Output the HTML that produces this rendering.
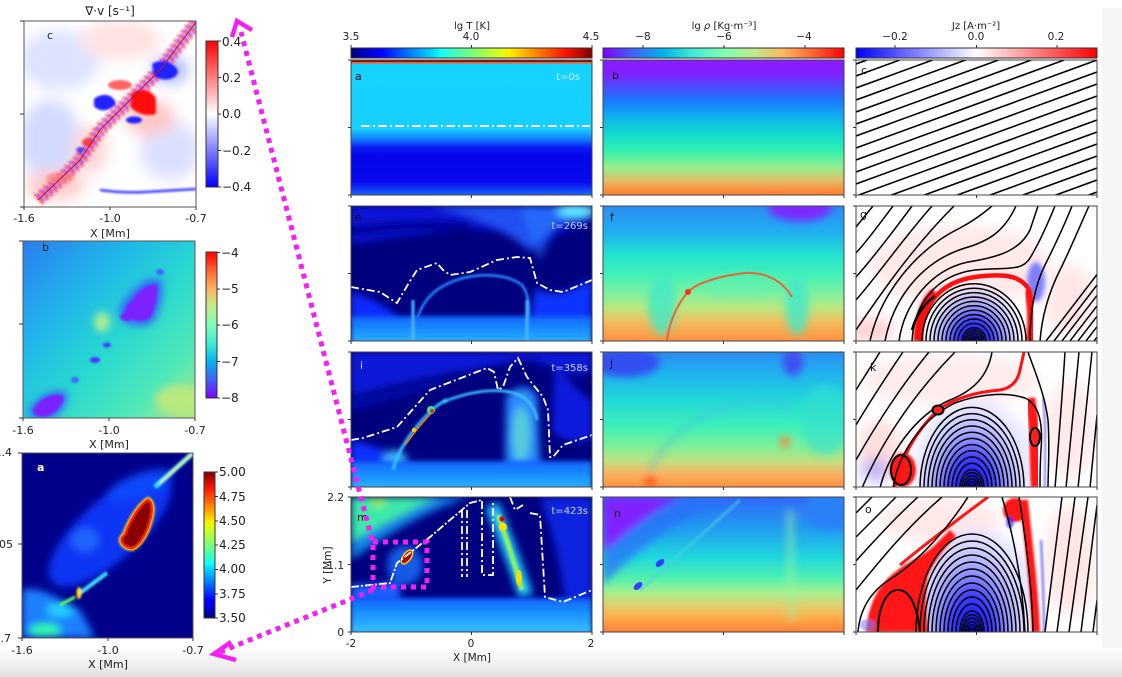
<!DOCTYPE html>
<html><head><meta charset="utf-8">
<style>
html,body{margin:0;padding:0;background:#fff;width:1122px;height:677px;overflow:hidden;}
svg{display:block;}
text{font-family:"DejaVu Sans","Liberation Sans",sans-serif;fill:#222;}
</style></head><body>
<svg width="1122" height="677" viewBox="0 0 1122 677" xmlns="http://www.w3.org/2000/svg">
<defs>
<filter id="f1" x="-30%" y="-30%" width="160%" height="160%"><feGaussianBlur stdDeviation="1"/></filter>
<filter id="f2" x="-30%" y="-30%" width="160%" height="160%"><feGaussianBlur stdDeviation="2.5"/></filter>
<filter id="f4" x="-30%" y="-30%" width="160%" height="160%"><feGaussianBlur stdDeviation="4"/></filter>
<filter id="f7" x="-40%" y="-40%" width="180%" height="180%"><feGaussianBlur stdDeviation="7"/></filter>

<linearGradient id="jetH" x1="0" y1="0" x2="1" y2="0">
<stop offset="0" stop-color="#000080"/><stop offset=".11" stop-color="#0000ff"/><stop offset=".125" stop-color="#0000ff"/><stop offset=".34" stop-color="#00dbff"/><stop offset=".375" stop-color="#14fff2"/><stop offset=".5" stop-color="#7aff7a"/><stop offset=".625" stop-color="#e0ff14"/><stop offset=".66" stop-color="#ffed00"/><stop offset=".75" stop-color="#ff9600"/><stop offset=".89" stop-color="#ff1200"/><stop offset="1" stop-color="#800000"/>
</linearGradient>
<linearGradient id="jetV" x1="0" y1="1" x2="0" y2="0">
<stop offset="0" stop-color="#000080"/><stop offset=".11" stop-color="#0000ff"/><stop offset=".125" stop-color="#0000ff"/><stop offset=".34" stop-color="#00dbff"/><stop offset=".375" stop-color="#14fff2"/><stop offset=".5" stop-color="#7aff7a"/><stop offset=".625" stop-color="#e0ff14"/><stop offset=".66" stop-color="#ffed00"/><stop offset=".75" stop-color="#ff9600"/><stop offset=".89" stop-color="#ff1200"/><stop offset="1" stop-color="#800000"/>
</linearGradient>
<linearGradient id="rbH" x1="0" y1="0" x2="1" y2="0">
<stop offset="0" stop-color="#8000ff"/><stop offset=".125" stop-color="#4062fa"/><stop offset=".25" stop-color="#00b4eb"/><stop offset=".375" stop-color="#40ebd4"/><stop offset=".5" stop-color="#80ffb4"/><stop offset=".625" stop-color="#bfeb8e"/><stop offset=".75" stop-color="#ffb462"/><stop offset=".875" stop-color="#ff6232"/><stop offset="1" stop-color="#ff0000"/>
</linearGradient>
<linearGradient id="rbV" x1="0" y1="1" x2="0" y2="0">
<stop offset="0" stop-color="#8000ff"/><stop offset=".125" stop-color="#4062fa"/><stop offset=".25" stop-color="#00b4eb"/><stop offset=".375" stop-color="#40ebd4"/><stop offset=".5" stop-color="#80ffb4"/><stop offset=".625" stop-color="#bfeb8e"/><stop offset=".75" stop-color="#ffb462"/><stop offset=".875" stop-color="#ff6232"/><stop offset="1" stop-color="#ff0000"/>
</linearGradient>
<linearGradient id="bwrH" x1="0" y1="0" x2="1" y2="0">
<stop offset="0" stop-color="#0000ff"/><stop offset=".5" stop-color="#ffffff"/><stop offset="1" stop-color="#ff0000"/>
</linearGradient>
<linearGradient id="bwrV" x1="0" y1="1" x2="0" y2="0">
<stop offset="0" stop-color="#0000ff"/><stop offset=".5" stop-color="#ffffff"/><stop offset="1" stop-color="#ff0000"/>
</linearGradient>

<linearGradient id="gTa" x1="0" y1="0" x2="0" y2="1">
<stop offset="0" stop-color="#16d2ff"/><stop offset=".5" stop-color="#16d0ff"/><stop offset=".58" stop-color="#1478ff"/><stop offset=".64" stop-color="#0a1cf2"/><stop offset=".7" stop-color="#0606ea"/><stop offset=".9" stop-color="#0808ee"/><stop offset="1" stop-color="#1a66ff"/>
</linearGradient>
<linearGradient id="gDb" x1="0" y1="0" x2="0" y2="1">
<stop offset="0" stop-color="#8a1cff"/><stop offset=".1" stop-color="#8020ff"/><stop offset=".3" stop-color="#1a78ff"/><stop offset=".42" stop-color="#10b0f0"/><stop offset=".54" stop-color="#10d8d0"/><stop offset=".67" stop-color="#30f0b0"/><stop offset=".79" stop-color="#90f090"/><stop offset=".89" stop-color="#e0c068"/><stop offset=".97" stop-color="#ff8a3a"/><stop offset="1" stop-color="#ff8030"/>
</linearGradient>
<linearGradient id="gDf" x1="0" y1="0" x2="0" y2="1">
<stop offset="0" stop-color="#2a8cf2"/><stop offset=".2" stop-color="#20b0f0"/><stop offset=".35" stop-color="#20e0d0"/><stop offset=".5" stop-color="#40f0b8"/><stop offset=".65" stop-color="#80f0a0"/><stop offset=".75" stop-color="#b8e880"/><stop offset=".85" stop-color="#f0c060"/><stop offset="1" stop-color="#ff9040"/>
</linearGradient>
<linearGradient id="gDj" x1="0" y1="0" x2="0" y2="1">
<stop offset="0" stop-color="#2a8cf0"/><stop offset=".15" stop-color="#20b0f0"/><stop offset=".35" stop-color="#20d8d8"/><stop offset=".55" stop-color="#40f0b8"/><stop offset=".7" stop-color="#80f098"/><stop offset=".8" stop-color="#c0e080"/><stop offset=".9" stop-color="#f8b060"/><stop offset="1" stop-color="#ff9040"/>
</linearGradient>
<linearGradient id="gDn" x1="0" y1="0" x2="0" y2="1">
<stop offset="0" stop-color="#3068f8"/><stop offset=".25" stop-color="#20a0f0"/><stop offset=".45" stop-color="#20d8dc"/><stop offset=".6" stop-color="#50f0b0"/><stop offset=".7" stop-color="#a0f090"/><stop offset=".8" stop-color="#e0d070"/><stop offset=".9" stop-color="#ffa848"/><stop offset="1" stop-color="#ff8038"/>
</linearGradient>
<linearGradient id="gBand" x1="0" y1="0" x2="0" y2="1">
<stop offset="0" stop-color="#1060ff"/><stop offset=".4" stop-color="#1a90ff"/><stop offset="1" stop-color="#38c4ff"/>
</linearGradient>
<radialGradient id="rBlueH" cx=".5" cy="1" r="1" gradientTransform="translate(.5 1) scale(.5 1) translate(-.5 -1)">
<stop offset="0" stop-color="#0000ff" stop-opacity="1"/><stop offset=".35" stop-color="#3030ff" stop-opacity=".9"/><stop offset=".7" stop-color="#9090ff" stop-opacity=".45"/><stop offset="1" stop-color="#ffffff" stop-opacity="0"/>
</radialGradient>
<linearGradient id="gLb" x1="0" y1="0" x2="1" y2="1">
<stop offset="0" stop-color="#2a7ef0"/><stop offset=".3" stop-color="#20b4ea"/><stop offset=".55" stop-color="#28d8d0"/><stop offset=".8" stop-color="#50e8b8"/><stop offset="1" stop-color="#b0e880"/>
</linearGradient>
<linearGradient id="gBot" x1="0" y1="0" x2="0" y2="1">
<stop offset="0" stop-color="#ffffff"/><stop offset="1" stop-color="#e2e2e2"/>
</linearGradient>

<clipPath id="c11"><rect x="351" y="60" width="241" height="135"/></clipPath>
<clipPath id="c12"><rect x="351" y="206" width="241" height="135"/></clipPath>
<clipPath id="c13"><rect x="351" y="352" width="241" height="135"/></clipPath>
<clipPath id="c14"><rect x="351" y="497" width="241" height="135"/></clipPath>
<clipPath id="c21"><rect x="603" y="60" width="241" height="135"/></clipPath>
<clipPath id="c22"><rect x="603" y="206" width="241" height="135"/></clipPath>
<clipPath id="c23"><rect x="603" y="352" width="241" height="135"/></clipPath>
<clipPath id="c24"><rect x="603" y="497" width="241" height="135"/></clipPath>
<clipPath id="c31"><rect x="856" y="60" width="241" height="135"/></clipPath>
<clipPath id="c32"><rect x="856" y="206" width="241" height="135"/></clipPath>
<clipPath id="c33"><rect x="856" y="352" width="241" height="135"/></clipPath>
<clipPath id="c34"><rect x="856" y="497" width="241" height="135"/></clipPath>
<clipPath id="cL1"><rect x="24" y="21" width="172" height="186"/></clipPath>
<clipPath id="cL2"><rect x="23" y="241" width="172" height="177"/></clipPath>
<clipPath id="cL3"><rect x="22" y="453" width="171" height="185"/></clipPath>
</defs>

<rect x="0" y="0" width="1122" height="677" fill="#ffffff"/>
<rect x="1102" y="8" width="20" height="669" fill="#f5f5f5"/>
<rect x="0" y="648" width="1122" height="29" fill="url(#gBot)"/>

<!-- ================= LEFT PANEL C (div v) ================= -->
<g clip-path="url(#cL1)">
<rect x="24" y="21" width="172" height="186" fill="#fff"/>
<g filter="url(#f7)">
<ellipse cx="60" cy="60" rx="40" ry="30" fill="#dde3ff"/>
<ellipse cx="50" cy="140" rx="30" ry="40" fill="#d2daff"/>
<ellipse cx="170" cy="150" rx="30" ry="30" fill="#dce0ff"/>
<ellipse cx="120" cy="40" rx="40" ry="20" fill="#ffe2e2"/>
<ellipse cx="55" cy="185" rx="30" ry="15" fill="#ffcccc"/>
<ellipse cx="150" cy="118" rx="25" ry="18" fill="#ffc8c8"/>
<ellipse cx="170" cy="70" rx="18" ry="14" fill="#b0b8ff"/>
<ellipse cx="90" cy="150" rx="18" ry="25" fill="#ffd8d8"/>
</g>
<g filter="url(#f1)">
<path d="M38,200 L60,180 L80,160 L100,130 L115,115 L130,100 L160,70 L196,22" fill="none" stroke="#ff3a3a" stroke-width="14" stroke-dasharray="3 3" opacity=".75"/>
<path d="M38,200 L60,180 L80,160 L100,130 L115,115 L130,100 L160,70 L196,22" fill="none" stroke="#3030ff" stroke-width="10" stroke-dasharray="2 4" stroke-dashoffset="3" opacity=".8"/>
<path d="M131,94 C140,87 152,89 156,99 L156,114 C146,117 137,113 131,108 Z" fill="#ff1010"/>
<path d="M152,64 C160,58 176,62 178,72 C176,80 162,82 154,76 Z" fill="#2020ff"/>
<path d="M94,99 C102,92 114,94 116,104 C110,111 100,113 94,106Z" fill="#2020ff"/>
<ellipse cx="134" cy="120" rx="8" ry="3.5" fill="#2020ff"/>
<path d="M100,190 C115,192 130,193 145,192 C160,191 180,190 196,189" fill="none" stroke="#3a3aff" stroke-width="2.5"/>
<ellipse cx="120" cy="85" rx="12" ry="5" fill="#ff4040" opacity=".8"/>
<ellipse cx="60" cy="178" rx="14" ry="6" fill="#ff8080" opacity=".7"/>
<ellipse cx="88" cy="142" rx="6" ry="4" fill="#ff3030" opacity=".8"/>
<ellipse cx="80" cy="150" rx="4" ry="3" fill="#3030ff" opacity=".8"/>
</g>
<path d="M38,200 L80,160 L100,130 L130,100 L160,70 L196,22" fill="none" stroke="#c01040" stroke-width="1"/>
</g>
<rect x="24" y="21" width="172" height="186" fill="none" stroke="#555" stroke-width="1"/>
<rect x="206" y="41" width="12" height="146" fill="url(#bwrV)" stroke="#333" stroke-width="1"/>
<path d="M218,41h3M218,77.5h3M218,114h3M218,150.5h3M218,187h3M20,21h4M20,114h4M20,207h4M24,207v3M110,207v3M196,207v3" stroke="#333" stroke-width="1"/>
<text x="222" y="46" font-size="12">0.4</text>
<text x="222" y="82" font-size="12">0.2</text>
<text x="222" y="118" font-size="12">0.0</text>
<text x="222" y="155" font-size="12">−0.2</text>
<text x="222" y="191" font-size="12">−0.4</text>
<text x="110" y="15" font-size="12" text-anchor="middle">∇·v [s⁻¹]</text>
<text x="47" y="39" font-size="11">c</text>
<text x="24" y="222" font-size="11" text-anchor="middle">-1.6</text>
<text x="110" y="222" font-size="11" text-anchor="middle">-1.0</text>
<text x="196" y="222" font-size="11" text-anchor="middle">-0.7</text>
<text x="110" y="237" font-size="11" text-anchor="middle">X [Mm]</text>

<!-- ================= LEFT PANEL B (density) ================= -->
<g clip-path="url(#cL2)">
<rect x="23" y="241" width="172" height="177" fill="url(#gLb)"/>
<g filter="url(#f4)">
<path d="M128,296 C138,282 152,276 162,280 C164,295 160,312 153,322 C144,328 132,328 122,320 C116,312 122,302 128,296 Z" fill="#3a50ff" opacity=".8"/>
<path d="M28,412 C34,398 50,389 66,391 C70,398 64,412 52,418 C42,422 30,421 28,412 Z" fill="#3a50ff" opacity=".8"/>
<ellipse cx="102" cy="322" rx="8" ry="10" fill="#a8f090"/>
<ellipse cx="180" cy="400" rx="25" ry="15" fill="#b8e880"/>
</g>
<g filter="url(#f1)">
<path d="M133,300 C140,288 150,283 157,285 C158,295 155,310 150,318 C143,322 135,322 127,316 C122,310 128,304 133,300 Z" fill="#7a20ff"/>
<path d="M120,316 C125,311 132,312 134,318 C130,322 122,322 120,316Z" fill="#7a20ff"/>
<path d="M33,410 C38,400 50,393 62,395 C66,400 60,410 50,415 C42,418 35,417 33,410 Z" fill="#7a20ff"/>
<ellipse cx="95" cy="360" rx="5" ry="3" fill="#5030ff"/>
<ellipse cx="107" cy="345" rx="4" ry="2.5" fill="#4040ff"/>
<ellipse cx="160" cy="272" rx="4" ry="3" fill="#4060ff"/>
<ellipse cx="75" cy="380" rx="4" ry="3" fill="#4060ff"/>
</g>
</g>
<rect x="23" y="241" width="172" height="177" fill="none" stroke="#555" stroke-width="1"/>
<rect x="206" y="252" width="11" height="146" fill="url(#rbV)" stroke="#333" stroke-width="1"/>
<path d="M217,252.5h3M217,289h3M217,325h3M217,361.5h3M217,398h3M19,241h4M19,324h4M19,418h4M23,418v3M109,418v3M195,418v3" stroke="#333" stroke-width="1"/>
<text x="221" y="257" font-size="12">−4</text>
<text x="221" y="293" font-size="12">−5</text>
<text x="221" y="329" font-size="12">−6</text>
<text x="221" y="366" font-size="12">−7</text>
<text x="221" y="402" font-size="12">−8</text>
<text x="42" y="251" font-size="11">b</text>
<text x="23" y="434" font-size="11" text-anchor="middle">-1.6</text>
<text x="109" y="434" font-size="11" text-anchor="middle">-1.0</text>
<text x="195" y="434" font-size="11" text-anchor="middle">-0.7</text>
<text x="109" y="448" font-size="11" text-anchor="middle">X [Mm]</text>

<!-- ================= LEFT PANEL A (temperature) ================= -->
<g clip-path="url(#cL3)">
<rect x="22" y="453" width="171" height="185" fill="#00008a"/>
<g filter="url(#f4)">
<ellipse cx="110" cy="530" rx="78" ry="30" transform="rotate(-42 110 530)" fill="#0a3cff" opacity=".9"/>
<ellipse cx="140" cy="485" rx="35" ry="12" transform="rotate(-20 140 485)" fill="#1050ff" opacity=".7"/>
<path d="M22,590 C40,585 60,600 80,610 L95,638 L22,638 Z" fill="#1a80ff"/>
<ellipse cx="45" cy="630" rx="16" ry="6" fill="#30ffa0"/>
<ellipse cx="60" cy="610" rx="14" ry="7" fill="#20d0ff"/>
<ellipse cx="85" cy="540" rx="14" ry="12" fill="#2a70ff" opacity=".8"/>
</g>
<g filter="url(#f1)">
<path d="M80,593 L107,573" stroke="#40e0ff" stroke-width="4" fill="none"/>
<ellipse cx="79" cy="593" rx="2.5" ry="6" fill="#ffe000"/>
<path d="M155,487 L193,453" stroke="#30e8ff" stroke-width="5" fill="none"/>
<path d="M160,483 L193,453" stroke="#f0f040" stroke-width="2" fill="none"/>
<path d="M60,605 L75,597" stroke="#60ff60" stroke-width="3" fill="none"/>
<path d="M125,535 C130,520 140,505 148,500 C152,502 153,510 150,520 C147,532 140,545 132,548 C125,548 117,540 125,535 Z" fill="none" stroke="#ffd000" stroke-width="6"/>
</g>
<path d="M125,535 C130,520 140,505 148,500 C152,502 153,510 150,520 C147,532 140,545 132,548 C125,548 117,540 125,535 Z" fill="#8a0000" stroke="#ff2000" stroke-width="2.5"/>
</g>
<rect x="22" y="453" width="171" height="185" fill="none" stroke="#555" stroke-width="1"/>
<rect x="204" y="472" width="11" height="146" fill="url(#jetV)" stroke="#333" stroke-width="1"/>
<path d="M215,472h3M215,496.5h3M215,521h3M215,545h3M215,569.5h3M215,594h3M215,618h3M18,453h4M18,544h4M18,638h4M22,638v3M108,638v3M193,638v3" stroke="#333" stroke-width="1"/>
<text x="219" y="476" font-size="12">5.00</text>
<text x="219" y="501" font-size="12">4.75</text>
<text x="219" y="525" font-size="12">4.50</text>
<text x="219" y="549" font-size="12">4.25</text>
<text x="219" y="573" font-size="12">4.00</text>
<text x="219" y="598" font-size="12">3.75</text>
<text x="219" y="622" font-size="12">3.50</text>
<text x="37" y="471" font-size="11" font-weight="bold" style="fill:#fff">a</text>
<text x="12" y="456" font-size="11" text-anchor="end">1.4</text>
<text x="13" y="548" font-size="11" text-anchor="end">1.05</text>
<text x="11" y="642" font-size="11" text-anchor="end">0.7</text>
<text x="22" y="654" font-size="11" text-anchor="middle">-1.6</text>
<text x="108" y="654" font-size="11" text-anchor="middle">-1.0</text>
<text x="193" y="654" font-size="11" text-anchor="middle">-0.7</text>
<text x="108" y="668" font-size="11" text-anchor="middle">X [Mm]</text>

<!-- ================= TOP COLORBARS ================= -->
<rect x="351" y="48" width="241" height="10" fill="url(#jetH)" stroke="#333" stroke-width="1"/>
<rect x="603" y="48" width="241" height="10" fill="url(#rbH)" stroke="#333" stroke-width="1"/>
<rect x="856" y="48" width="241" height="10" fill="url(#bwrH)" stroke="#333" stroke-width="1"/>
<path d="M351,45v3M471.5,45v3M592,45v3M643,45v3M724,45v3M805,45v3M895,45v3M976.5,45v3M1057,45v3" stroke="#333" stroke-width="1"/>
<text x="472" y="29" font-size="10" text-anchor="middle">lg T [K]</text>
<text x="351" y="40" font-size="10.5" text-anchor="middle">3.5</text>
<text x="471" y="40" font-size="10.5" text-anchor="middle">4.0</text>
<text x="591" y="40" font-size="10.5" text-anchor="middle">4.5</text>
<text x="724" y="29" font-size="10" text-anchor="middle">lg <tspan font-style="italic">ρ</tspan> [Kg·m⁻³]</text>
<text x="643" y="40" font-size="10.5" text-anchor="middle">−8</text>
<text x="724" y="40" font-size="10.5" text-anchor="middle">−6</text>
<text x="804" y="40" font-size="10.5" text-anchor="middle">−4</text>
<text x="976" y="29" font-size="10" text-anchor="middle">Jz [A·m⁻²]</text>
<text x="895" y="40" font-size="10.5" text-anchor="middle">−0.2</text>
<text x="976" y="40" font-size="10.5" text-anchor="middle">0.0</text>
<text x="1056" y="40" font-size="10.5" text-anchor="middle">0.2</text>

<!-- ================= COLUMN 1 : TEMPERATURE ================= -->
<g clip-path="url(#c11)">
<rect x="351" y="63" width="241" height="132" fill="url(#gTa)"/>
<rect x="351" y="60" width="241" height="2.2" fill="#8b1010"/>
<rect x="351" y="62" width="241" height="1.5" fill="#ff5a1a"/>
<path d="M361,126 H590" stroke="#fff" stroke-width="2" stroke-dasharray="9 3 2 3" fill="none"/>
</g>
<g clip-path="url(#c12)">
<rect x="351" y="206" width="241" height="135" fill="#00007e"/>
<g filter="url(#f4)">
<path d="M351,206H592V220C570,226 548,238 535,252C522,236 490,224 450,230C410,236 380,238 351,244Z" fill="#0a1cf5" opacity=".75"/>
<path d="M351,226 C390,222 430,218 470,222 L470,230 C430,228 390,232 351,236Z" fill="#00007e" opacity=".8"/>
<path d="M430,206C470,214 505,228 530,252C540,236 560,220 592,212V206Z" fill="#2a6cff" opacity=".7"/>
<ellipse cx="575" cy="211" rx="20" ry="7" fill="#60e8ff"/>
<path d="M351,292C375,300 392,308 400,322L351,322Z" fill="#0a2cff"/>
<path d="M535,288C555,300 575,290 592,278V325H530Z" fill="#0a34ff"/>
<path d="M520,206 L540,262 L562,206Z" fill="#2a80ff" opacity=".5"/>
</g>
<path d="M413,340C415,315 425,295 445,285C470,272 505,272 522,285C530,295 530,315 528,340" fill="none" stroke="#2a8cff" stroke-width="2.5" filter="url(#f1)"/>
<rect x="351" y="316" width="241" height="35" fill="url(#gBand)" filter="url(#f2)"/>
<path d="M413,300 L413,341 M527,300 L527,341" stroke="#50b8ff" stroke-width="3" filter="url(#f1)"/>
<path d="M351,287 L362,289 L380,292 L397,303 L410,281 L417,270 L437,263 L443,270 L450,275 L470,272 L497,260 L517,257 L530,258 L537,283 L550,290 L563,292 L592,280" fill="none" stroke="#fff" stroke-width="1.8" stroke-dasharray="8 3 2 3"/>
</g>
<g clip-path="url(#c13)">
<rect x="351" y="352" width="241" height="136" fill="#00007e"/>
<g filter="url(#f4)">
<path d="M351,352H592V372C575,378 555,370 540,362C520,356 500,366 470,370C430,375 400,384 351,396Z" fill="#0a22f5" opacity=".75"/>
<path d="M351,400C380,395 420,385 440,378L445,384C420,392 380,402 351,410Z" fill="#0a18e0" opacity=".5"/>
<path d="M555,365C570,380 580,395 592,400V440C575,445 560,440 552,430Z" fill="#0a22f5" opacity=".8"/>
<path d="M506,398C514,386 528,383 537,396L541,488H505Z" fill="#2a8cff"/>
<ellipse cx="521" cy="435" rx="9" ry="28" fill="#60dcd0" opacity=".8"/>
<path d="M351,440C370,445 390,450 400,462L351,465Z" fill="#0a30ff"/>
<ellipse cx="395" cy="460" rx="12" ry="10" fill="#40b0ff"/>
</g>
<rect x="351" y="461" width="241" height="35" fill="url(#gBand)" filter="url(#f2)"/>
<path d="M393,470 C398,450 412,430 430,412 C437,405 442,402 447,400" fill="none" stroke="#30c8ff" stroke-width="3" filter="url(#f1)"/>
<path d="M405,445 L418,428 L432,412" fill="none" stroke="#ff7000" stroke-width="1.6"/>
<circle cx="431" cy="410" r="4" fill="#40e0a0"/>
<circle cx="432" cy="411" r="2" fill="#ff2000"/>
<circle cx="414" cy="430" r="2" fill="#ffd000"/>
<path d="M443,402 C465,393 490,388 510,392 C525,395 535,405 537,420" fill="none" stroke="#40c8ff" stroke-width="2.5" filter="url(#f1)"/>
<path d="M351,440 L363,438 L397,427 L430,390 L487,368 L494,372 L498,390 L503,387 L510,367 L518,358 L527,377 L543,397 L548,410 L550,457 L553,457 L563,445 L592,435" fill="none" stroke="#fff" stroke-width="1.8" stroke-dasharray="8 3 2 3"/>
</g>
<g clip-path="url(#c14)">
<rect x="351" y="497" width="241" height="135" fill="#00007e"/>
<g filter="url(#f4)">
<path d="M351,497H440C415,508 385,525 351,542Z" fill="#3ce8a8"/>
<path d="M351,542C385,525 415,508 440,497H470C440,506 400,525 351,560Z" fill="#1aa0ff" opacity=".8"/>
<ellipse cx="378" cy="502" rx="8" ry="4" fill="#a0f040"/>
<path d="M540,497H592V600H565C560,560 552,530 540,497Z" fill="#0a28f0" opacity=".85"/>
<path d="M492,505C502,530 514,560 526,596" fill="none" stroke="#20c8ff" stroke-width="14"/>
<ellipse cx="405" cy="565" rx="18" ry="20" fill="#1a70ff" opacity=".8"/>
<path d="M351,585 L400,582 L400,602 L351,602Z" fill="#1a60ff"/>
</g>
<path d="M498,515C507,540 515,565 522,590" fill="none" stroke="#90f060" stroke-width="5" filter="url(#f1)"/>
<rect x="351" y="598" width="241" height="36" fill="url(#gBand)" filter="url(#f2)"/>
<circle cx="503" cy="527" r="4" fill="#ffe000"/>
<circle cx="502" cy="519" r="2.5" fill="#e00000"/>
<ellipse cx="519" cy="578" rx="3" ry="8" fill="#f0e000"/>
<ellipse cx="407" cy="557" rx="4" ry="8" transform="rotate(35 407 557)" fill="#b00000" stroke="#ffd000" stroke-width="1.5"/>
<path d="M351,587 L390,583 L397,563 L430,537 L470,503 L482,500" fill="none" stroke="#fff" stroke-width="1.8" stroke-dasharray="8 2 2 2"/>
<path d="M462,510 L462,577 M467,510 L467,577 M482,501 L482,575 L493,575 L493,501 M510,497 L515,510 L523,505 M530,513 L540,515 L545,597 L563,602 L592,590" fill="none" stroke="#fff" stroke-width="1.8" stroke-dasharray="8 3 2 3"/>
</g>

<!-- ================= COLUMN 2 : DENSITY ================= -->
<g clip-path="url(#c21)">
<rect x="603" y="60" width="241" height="135" fill="url(#gDb)"/>
</g>
<g clip-path="url(#c22)">
<rect x="603" y="206" width="241" height="135" fill="url(#gDf)"/>
<g filter="url(#f4)">
<ellipse cx="800" cy="208" rx="32" ry="13" fill="#7a2cff"/>
<ellipse cx="662" cy="305" rx="14" ry="30" fill="#40e8c8" opacity=".8"/>
<ellipse cx="797" cy="305" rx="12" ry="30" fill="#40e8c8" opacity=".8"/>
<ellipse cx="740" cy="285" rx="45" ry="12" fill="#60f0b0" opacity=".5"/>
</g>
<path d="M667,340 C670,318 680,300 690,290 C700,282 720,276 745,273 C765,272 782,280 792,297" fill="none" stroke="#ff5020" stroke-width="2" opacity=".85"/>
<circle cx="688" cy="292" r="3" fill="#ff3010"/>
</g>
<g clip-path="url(#c23)">
<rect x="603" y="352" width="241" height="136" fill="url(#gDj)"/>
<g filter="url(#f4)">
<ellipse cx="625" cy="362" rx="35" ry="15" fill="#3050f0"/>
<ellipse cx="793" cy="362" rx="10" ry="14" fill="#4050f0"/>
<ellipse cx="825" cy="420" rx="25" ry="35" fill="#30e0d0" opacity=".6"/>
<circle cx="650" cy="482" r="6" fill="#ff5a20"/>
<circle cx="785" cy="442" r="5" fill="#ff8030"/>
<path d="M650,470C665,440 690,420 730,405C760,398 780,400 790,410" fill="none" stroke="#40b0f0" stroke-width="4" opacity=".5"/>
</g>
</g>
<g clip-path="url(#c24)">
<rect x="603" y="497" width="241" height="135" fill="url(#gDn)"/>
<g filter="url(#f4)">
<path d="M603,550 C630,528 665,505 700,497 H735 C700,508 650,535 603,585 Z" fill="#2a70f8" opacity=".75"/>
<path d="M603,497 H680 C655,510 632,527 603,552 Z" fill="#8020ff"/>
<ellipse cx="830" cy="510" rx="25" ry="20" fill="#2a80f8"/>
<path d="M790,510 L792,620" stroke="#a0f0a0" stroke-width="8" opacity=".5"/>
</g>
<path d="M640,590 L740,500" stroke="#50d0e0" stroke-width="3" opacity=".6" filter="url(#f1)"/>
<ellipse cx="660" cy="563" rx="5" ry="3" fill="#3040ff" transform="rotate(-40 660 563)"/>
<ellipse cx="638" cy="586" rx="5" ry="3" fill="#3040ff" transform="rotate(-40 638 586)"/>
</g>

<!-- ================= COLUMN 3 : Jz ================= -->
<g clip-path="url(#c31)">
<rect x="856" y="60" width="241" height="135" fill="#fff"/>
<path d="M856,64L867,60M856,76L899.8,60M856,88L932.7,60M856,100L965.6,60M856,112L998.5,60M856,124L1031.3,60M856,136L1064.2,60M856,148L1097,60M856,160L1097,72M856,172L1097,84M856,184L1097,96M856,196L1097,108M856,208L1097,120M856,220L1097,132M856,232L1097,144M856,244L1097,156M856,256L1097,168M856,268L1097,180M856,280L1097,192" stroke="#000" stroke-width="1.6" fill="none"/>
</g>
<g clip-path="url(#c32)">
<rect x="856" y="206" width="241" height="135" fill="#fff"/>
<g filter="url(#f7)">
<ellipse cx="960" cy="265" rx="90" ry="40" fill="#ffe4e4" opacity=".8"/>
<ellipse cx="870" cy="330" rx="25" ry="12" fill="#ffd0d0"/>
<ellipse cx="1070" cy="300" rx="25" ry="35" fill="#ffe6e6"/>
</g>
<ellipse cx="1036" cy="282" rx="9" ry="20" fill="#8080ff" filter="url(#f2)"/>
<path d="M918,341 A56,64 0 0 1 1030,341 Z" fill="url(#rBlueH)"/>
<path d="M918,341 C918,318 925,300 935,292" fill="none" stroke="#ff1010" stroke-width="9" filter="url(#f1)"/>
<path d="M1027,290 C1033,305 1032,325 1030,341" fill="none" stroke="#ff2020" stroke-width="9" filter="url(#f1)"/>
<path d="M921,341 C921,305 940,282 975,277 C1005,273 1020,276 1028,288 C1033,305 1030,322 1031,341" fill="none" stroke="#ff1010" stroke-width="4.5"/>
<g stroke="#000" stroke-width="1.5" fill="none">
<path d="M972,341A2,2.2 0 0 1 976,341M970,341A4,4.4 0 0 1 978,341M968,341A6,6.6 0 0 1 980,341M966,341A8,8.8 0 0 1 982,341M964,341A10,11 0 0 1 984,341M962,341A12,13.2 0 0 1 986,341M958,341A16,17.6 0 0 1 990,341M954,341A20,22 0 0 1 994,341M950,341A24,26.4 0 0 1 998,341M946,341A28,30.8 0 0 1 1002,341M942,341A32,35.2 0 0 1 1006,341M938,341A36,39.6 0 0 1 1010,341M934,341A40,44 0 0 1 1014,341M930,341A44,48.4 0 0 1 1018,341M926,341A48,52.8 0 0 1 1022,341M922,341A52,57.2 0 0 1 1026,341"/>
<path d="M856,227 L873,206"/>
<path d="M856,253 C868,240 880,223 893,206"/>
<path d="M856,277 C873,258 892,233 912,206"/>
<path d="M856,300 C878,275 902,240 932,206"/>
<path d="M856,330 C880,295 912,248 954,206"/>
<path d="M870,341 C880,295 915,250 960,228 C975,220 985,212 992,206"/>
<path d="M885,341 C893,300 920,262 965,248 C990,241 1005,230 1016,206"/>
<path d="M899,341 C904,305 930,270 968,262 C1000,257 1020,250 1030,230 L1038,206"/>
<path d="M912,341 C914,305 935,275 975,270 C1005,267 1022,272 1030,258 C1038,245 1046,228 1055,206"/>
<path d="M1030,341 C1030,310 1035,285 1045,265 C1055,245 1064,226 1072,206"/>
<path d="M1040,341 C1042,315 1050,290 1060,270 C1070,250 1079,228 1089,206"/>
<path d="M1046,341 L1097,274.5M1054,341 L1097,285M1062,341 L1097,295.4M1070,341 L1097,305.9M1078,341 L1097,316.3M1086,341 L1097,326.7M1094,341 L1097,337.2"/>
</g>
<path d="M912,330 C916,315 925,303 935,296" fill="none" stroke="#000" stroke-width="2.5"/>
</g>
<g clip-path="url(#c33)">
<rect x="856" y="352" width="241" height="136" fill="#fff"/>
<g filter="url(#f7)">
<ellipse cx="950" cy="380" rx="90" ry="26" fill="#ffecec"/>
<ellipse cx="880" cy="450" rx="22" ry="30" fill="#ffdede"/>
<ellipse cx="1070" cy="430" rx="25" ry="50" fill="#ffeaea"/>
<ellipse cx="975" cy="465" rx="60" ry="65" fill="#e2e2ff" opacity=".8"/>
<ellipse cx="875" cy="470" rx="15" ry="12" fill="#8080ff" opacity=".5"/>
</g>
<path d="M910,488 A62,92 0 0 1 1034,488 Z" fill="url(#rBlueH)"/>
<path d="M1030,398 C1036,430 1034,460 1036,487" fill="none" stroke="#ff1515" stroke-width="10" filter="url(#f1)"/>
<path d="M1043,398 C1047,430 1045,460 1045,487" fill="none" stroke="#4040ff" stroke-width="2" opacity=".7" filter="url(#f1)"/>
<ellipse cx="903" cy="470" rx="13" ry="17" fill="#ff1515" filter="url(#f1)"/>
<path d="M895,487 C900,460 915,432 938,410 C955,398 975,392 1000,390 C1012,388 1018,380 1020,370 L1024,352" fill="none" stroke="#ff1010" stroke-width="3"/>
<g stroke="#000" stroke-width="1.5" fill="none">
<path d="M970,488A2,3.1 0 0 1 974,488M968,488A4,6.2 0 0 1 976,488M966,488A6,9.3 0 0 1 978,488M964,488A8,12.4 0 0 1 980,488M962,488A10,15.5 0 0 1 982,488M960,488A12,18.6 0 0 1 984,488M956,488A16,24.8 0 0 1 988,488M952,488A20,31 0 0 1 992,488M948,488A24,37.2 0 0 1 996,488M944,488A28,43.4 0 0 1 1000,488M940,488A32,49.6 0 0 1 1004,488M936,488A36,55.8 0 0 1 1008,488M932,488A40,62 0 0 1 1012,488M928,488A44,68.2 0 0 1 1016,488M924,488A48,74.4 0 0 1 1020,488M920,488A52,80.6 0 0 1 1024,488"/>
<path d="M856,390 L880,352"/>
<path d="M856,425 C868,405 886,377 903,352"/>
<path d="M856,460 C872,432 896,392 929,352"/>
<path d="M862,488 C878,450 908,400 955,352"/>
<path d="M880,488 C888,455 915,415 950,400 C975,390 988,375 992,352"/>
<path d="M893,488 C898,455 920,420 955,403 C985,392 1010,393 1025,398 C1040,405 1043,425 1041,450 C1040,465 1040,478 1040,488"/>
<path d="M1028,352 C1035,372 1045,395 1048,420 C1050,450 1048,470 1048,488"/>
<path d="M1055,488 C1058,450 1062,400 1065,352"/>
<path d="M1066,488 L1079,352M1078,488 L1092,352M1090,488 L1097,415"/>
</g>
<ellipse cx="938" cy="410" rx="5.5" ry="4.5" fill="#ff2020" stroke="#000" stroke-width="2"/>
<ellipse cx="1035" cy="437" rx="5" ry="9" fill="#ff2020" stroke="#000" stroke-width="2"/>
<ellipse cx="901" cy="470" rx="10" ry="15" fill="none" stroke="#000" stroke-width="2"/>
</g>
<g clip-path="url(#c34)">
<rect x="856" y="497" width="241" height="135" fill="#fff"/>
<g filter="url(#f7)">
<ellipse cx="940" cy="520" rx="60" ry="22" fill="#ffe8e8"/>
<ellipse cx="1070" cy="560" rx="25" ry="55" fill="#ffe6e6"/>
<ellipse cx="975" cy="592" rx="58" ry="62" fill="#dcdcff" opacity=".85"/>
</g>
<path d="M908,632 A64,108 0 0 1 1036,632 Z" fill="url(#rBlueH)"/>
<g filter="url(#f1)">
<path d="M866,632 C868,605 878,585 895,572 C910,560 925,555 935,545 L950,530 L956,536 C945,548 935,560 928,575 C925,590 925,610 928,632 Z" fill="#ff1515"/>
<path d="M1024,500 C1028,540 1034,585 1036,632" fill="none" stroke="#ff1515" stroke-width="8"/>
<ellipse cx="1015" cy="510" rx="12" ry="12" fill="#ff1515"/>
<path d="M1041,540 C1043,580 1044,610 1044,632" fill="none" stroke="#3030ff" stroke-width="2" opacity=".7"/>
<ellipse cx="1010" cy="522" rx="4" ry="6" fill="#3030ff" opacity=".7"/>
<ellipse cx="868" cy="625" rx="8" ry="6" fill="#8080ff" opacity=".6"/>
</g>
<path d="M900,565 C930,540 960,518 988,497" fill="none" stroke="#ff1515" stroke-width="3"/>
<g stroke="#000" stroke-width="1.5" fill="none">
<path d="M970,632A2,3.5 0 0 1 974,632M968,632A4,7 0 0 1 976,632M966,632A6,10.5 0 0 1 978,632M964,632A8,14 0 0 1 980,632M962,632A10,17.5 0 0 1 982,632M960,632A12,21 0 0 1 984,632M956,632A16,28 0 0 1 988,632M952,632A20,35 0 0 1 992,632M948,632A24,42 0 0 1 996,632M944,632A28,49 0 0 1 1000,632M940,632A32,56 0 0 1 1004,632M936,632A36,63 0 0 1 1008,632M932,632A40,70 0 0 1 1012,632M928,632A44,77 0 0 1 1016,632M924,632A48,84 0 0 1 1020,632M920,632A52,91 0 0 1 1024,632M916,632A56,98 0 0 1 1028,632"/>
<path d="M856,513 L872,497"/>
<path d="M856,537 L896,497"/>
<path d="M856,561 C872,543 896,517 918,497"/>
<path d="M856,590 C878,563 906,528 942,497"/>
<path d="M858,632 C860,608 872,590 892,578 C920,560 948,528 968,497"/>
<path d="M1002,497 C1012,530 1022,575 1025,632"/>
<path d="M1019,497 C1026,540 1032,590 1033,632"/>
<path d="M1045,632 L1062,497M1057,632 L1075,497M1069,632 L1088,497M1081,632 L1097,505M1093,632 L1097,600"/>
</g>
<path d="M878,632 C878,605 888,588 900,590 C912,592 918,612 920,632" fill="none" stroke="#000" stroke-width="2"/>
</g>

<!-- ================= FRAMES & TICKS ================= -->
<g fill="none" stroke="#444" stroke-width="1">
<rect x="351" y="60" width="241" height="135"/><rect x="603" y="60" width="241" height="135"/><rect x="856" y="60" width="241" height="135"/>
<rect x="351" y="206" width="241" height="135"/><rect x="603" y="206" width="241" height="135"/><rect x="856" y="206" width="241" height="135"/>
<rect x="351" y="352" width="241" height="135"/><rect x="603" y="352" width="241" height="135"/><rect x="856" y="352" width="241" height="135"/>
<rect x="351" y="497" width="241" height="135"/><rect x="603" y="497" width="241" height="135"/><rect x="856" y="497" width="241" height="135"/>
</g>
<path d="M348,60h3M348,127.5h3M348,195h3M351,195v3M471.5,195v3M592,195v3
M600,60h3M600,127.5h3M600,195h3M603,195v3M723.5,195v3M844,195v3
M853,60h3M853,127.5h3M853,195h3M856,195v3M976.5,195v3M1097,195v3
M348,206h3M348,273.5h3M348,341h3M351,341v3M471.5,341v3M592,341v3
M600,206h3M600,273.5h3M600,341h3M603,341v3M723.5,341v3M844,341v3
M853,206h3M853,273.5h3M853,341h3M856,341v3M976.5,341v3M1097,341v3
M348,352h3M348,419.5h3M348,487h3M351,487v3M471.5,487v3M592,487v3
M600,352h3M600,419.5h3M600,487h3M603,487v3M723.5,487v3M844,487v3
M853,352h3M853,419.5h3M853,487h3M856,487v3M976.5,487v3M1097,487v3
M348,497h3M348,564.5h3M348,632h3M351,632v3M471.5,632v3M592,632v3
M600,497h3M600,564.5h3M600,632h3M603,632v3M723.5,632v3M844,632v3
M853,497h3M853,564.5h3M853,632h3M856,632v3M976.5,632v3M1097,632v3" stroke="#333" stroke-width="1" fill="none"/>

<text x="355" y="80" font-size="11" style="fill:#001">a</text>
<text x="612" y="79" font-size="11" style="fill:#111">b</text>
<text x="861" y="74" font-size="11" style="fill:#111">c</text>
<text x="355" y="221" font-size="11" style="fill:#111">e</text>
<text x="610" y="221" font-size="11" style="fill:#111">f</text>
<text x="860" y="218" font-size="11" style="fill:#111">g</text>
<text x="360" y="369" font-size="11" style="fill:#ddd">i</text>
<text x="610" y="367" font-size="11" style="fill:#111">j</text>
<text x="870" y="371" font-size="11" style="fill:#111">k</text>
<text x="357" y="521" font-size="11" style="fill:#111">m</text>
<text x="614" y="517" font-size="11" style="fill:#111">n</text>
<text x="865" y="513" font-size="11" style="fill:#111">o</text>
<text x="580" y="80" font-size="10" text-anchor="end" style="fill:#c8eeff">t=0s</text>
<text x="588" y="229" font-size="10" text-anchor="end" style="fill:#c8d0ff">t=269s</text>
<text x="588" y="371" font-size="10" text-anchor="end" style="fill:#c8d0ff">t=358s</text>
<text x="588" y="514" font-size="10" text-anchor="end" style="fill:#c8d0ff">t=423s</text>

<text x="344" y="501" font-size="10.5" text-anchor="end">2.2</text>
<text x="344" y="569" font-size="10.5" text-anchor="end">1.1</text>
<text x="344" y="636" font-size="10.5" text-anchor="end">0</text>
<text x="351" y="647" font-size="10.5" text-anchor="middle">-2</text>
<text x="471" y="647" font-size="10.5" text-anchor="middle">0</text>
<text x="591" y="647" font-size="10.5" text-anchor="middle">2</text>
<text x="472" y="661" font-size="10.5" text-anchor="middle">X [Mm]</text>
<text x="0" y="0" font-size="10.5" text-anchor="middle" transform="translate(331 565) rotate(-90)">Y [Mm]</text>

<g fill="none" stroke="#f51ef5" stroke-width="5">
<rect x="373" y="542" width="54" height="45" stroke-dasharray="5 5"/>
<path d="M372,540 L241,32" stroke-dasharray="5 5"/>
<path d="M373,590 L220,652" stroke-dasharray="5 5"/>
<path d="M232,37 L237,21 L252,30" stroke-width="4.5"/>
<path d="M231,642 L214,654 L236,660" stroke-width="4.5"/>
</g>
</svg>
</body></html>
